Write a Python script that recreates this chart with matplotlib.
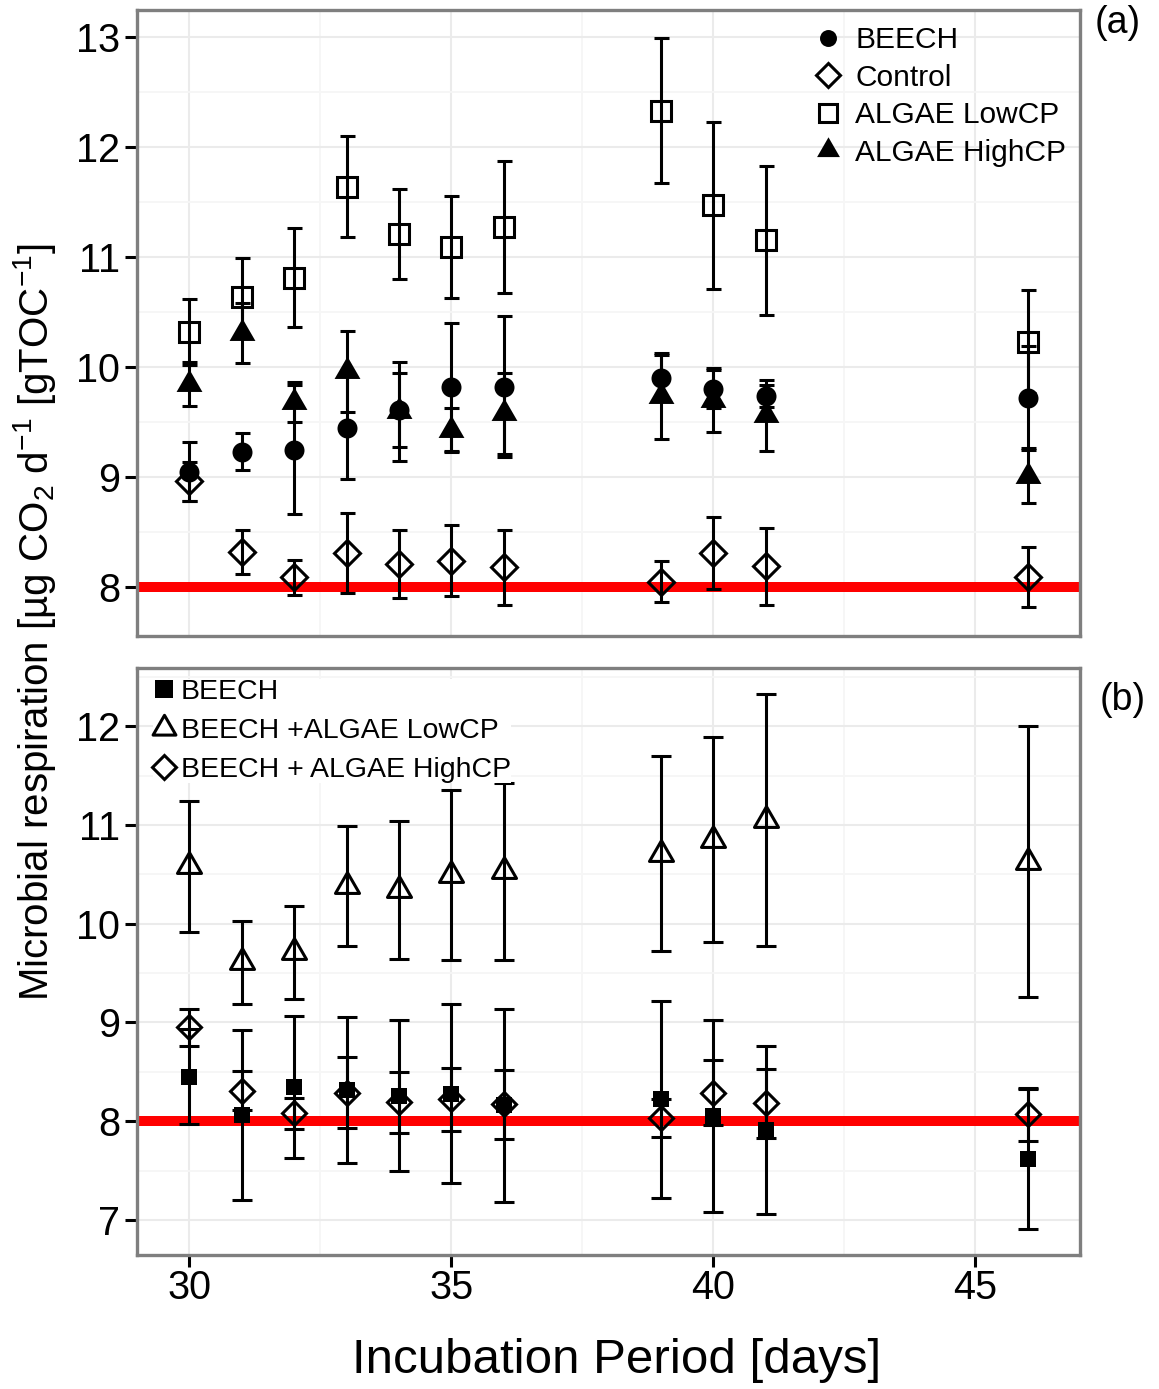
import matplotlib
matplotlib.use("Agg")
import matplotlib.pyplot as plt
from matplotlib.lines import Line2D
from matplotlib.path import Path
from matplotlib.ticker import MultipleLocator

plt.rcParams['font.family'] = 'Liberation Sans'
plt.rcParams['mathtext.fontset'] = 'custom'
plt.rcParams['mathtext.rm'] = 'Liberation Sans'
plt.rcParams['mathtext.it'] = 'Liberation Sans:italic'
plt.rcParams['mathtext.default'] = 'regular'

days = [30, 31, 32, 33, 34, 35, 36, 39, 40, 41, 46]

# panel (a)
beech_a = [9.05, 9.23, 9.25, 9.45, 9.61, 9.82, 9.82, 9.90, 9.80, 9.74, 9.72]
beech_a_err = [0.27, 0.17, 0.59, 0.47, 0.34, 0.58, 0.64, 0.21, 0.17, 0.10, 0.47]
control_a = [8.96, 8.32, 8.09, 8.31, 8.21, 8.24, 8.18, 8.05, 8.31, 8.19, 8.09]
control_a_err = [0.18, 0.20, 0.16, 0.36, 0.31, 0.32, 0.34, 0.19, 0.33, 0.35, 0.27]
lowcp_a = [10.32, 10.64, 10.81, 11.64, 11.21, 11.09, 11.27, 12.33, 11.47, 11.15, 10.23]
lowcp_a_err = [0.30, 0.35, 0.45, 0.46, 0.41, 0.46, 0.60, 0.66, 0.76, 0.68, 0.47]
highcp_a = [9.85, 10.31, 9.68, 9.96, 9.60, 9.43, 9.58, 9.74, 9.70, 9.56, 9.01]
highcp_a_err = [0.20, 0.27, 0.18, 0.37, 0.45, 0.20, 0.37, 0.39, 0.29, 0.32, 0.25]

# panel (b)
beech_b = [8.45, 8.06, 8.35, 8.32, 8.26, 8.28, 8.16, 8.22, 8.05, 7.91, 7.62]
beech_b_err = [0.48, 0.86, 0.72, 0.74, 0.76, 0.91, 0.98, 1.00, 0.97, 0.85, 0.71]
lowcp_b = [10.58, 9.61, 9.71, 10.38, 10.34, 10.49, 10.53, 10.71, 10.85, 11.05, 10.63]
lowcp_b_err = [0.66, 0.42, 0.47, 0.61, 0.70, 0.86, 0.90, 0.99, 1.04, 1.28, 1.37]
highcp_b = [8.95, 8.31, 8.08, 8.29, 8.19, 8.22, 8.17, 8.03, 8.29, 8.18, 8.07]
highcp_b_err = [0.19, 0.20, 0.16, 0.36, 0.31, 0.32, 0.35, 0.19, 0.33, 0.35, 0.27]

baseline = 8

# equilateral triangle centred on its centroid (like R pch 17 / 2), closed
tri = Path([(-1, -0.577), (1, -0.577), (0, 1.155), (-1, -0.577)], closed=True)

W, H = 1159, 1389
fig = plt.figure(figsize=(W / 100, H / 100), dpi=100)
ax_a = fig.add_axes([137 / W, 1 - 636 / H, 943 / W, 626 / H])
ax_b = fig.add_axes([137 / W, 1 - 1255 / H, 943 / W, 587 / H])


def style_axes(ax, ylim, yticks):
    ax.set_xlim(29.0, 47.0)
    ax.set_ylim(*ylim)
    ax.set_yticks(yticks)
    ax.set_xticks([30, 35, 40, 45])
    ax.xaxis.set_minor_locator(MultipleLocator(2.5))
    ax.yaxis.set_minor_locator(MultipleLocator(0.5))
    ax.grid(which='major', color='#EBEBEB', lw=1.5, zorder=0)
    ax.grid(which='minor', color='#F6F6F6', lw=1.3, zorder=0)
    ax.set_axisbelow(True)
    for s in ax.spines.values():
        s.set_color('#7F7F7F')
        s.set_linewidth(2.4)
    ax.tick_params(which='major', length=8.5, width=2.2, color='black',
                   labelsize=28.5, pad=3.5)
    ax.tick_params(which='minor', length=0)
    ax.axhline(baseline, color='#FF0000', lw=7.2, zorder=1.5)


def draw(ax, y, err, marker, ms, filled, capsize, label):
    ax.errorbar(days, y, yerr=err, fmt='none', ecolor='black', elinewidth=2.2,
                capsize=capsize, capthick=2.2, zorder=2)
    ax.plot(days, y, linestyle='none', marker=marker, ms=ms,
            mfc='black' if filled else 'none', mec='black',
            mew=0 if filled else 2.2, zorder=3, label=label)


style_axes(ax_a, (7.555, 13.245), [8, 9, 10, 11, 12, 13])
ax_a.tick_params(axis='x', bottom=False, labelbottom=False)
draw(ax_a, control_a, control_a_err, 'D', 13.5, False, 5.4, 'Control')
draw(ax_a, lowcp_a, lowcp_a_err, 's', 13.7, False, 5.4, 'ALGAE LowCP')
draw(ax_a, highcp_a, highcp_a_err, tri, 21.5, True, 5.4, 'ALGAE HighCP')
draw(ax_a, beech_a, beech_a_err, 'o', 14.4, True, 5.4, 'BEECH')

handles_a = [
    Line2D([], [], ls='none', marker='o', ms=12.2, mfc='black', mec='black', mew=0),
    Line2D([], [], ls='none', marker='D', ms=12.5, mfc='none', mec='black', mew=2.2),
    Line2D([], [], ls='none', marker='s', ms=12.5, mfc='none', mec='black', mew=2.2),
    Line2D([], [], ls='none', marker=tri, ms=19, mfc='black', mec='black', mew=0),
]
ax_a.legend(handles_a, ['BEECH', 'Control', 'ALGAE LowCP', 'ALGAE HighCP'],
            loc='upper left', bbox_to_anchor=(813.4 / W, 1 - 26 / H),
            bbox_transform=fig.transFigure, frameon=False, fontsize=21.5,
            borderpad=0, borderaxespad=0, handlelength=1.0,
            handletextpad=0.4, labelspacing=0.32)

style_axes(ax_b, (6.645, 12.59), [7, 8, 9, 10, 11, 12])
ax_b.tick_params(axis='x', pad=1.5)
draw(ax_b, lowcp_b, lowcp_b_err, tri, 20, False, 7.2, 'BEECH +ALGAE LowCP')
draw(ax_b, highcp_b, highcp_b_err, 'D', 12.6, False, 7.2, 'BEECH + ALGAE HighCP')
draw(ax_b, beech_b, beech_b_err, 's', 12.2, True, 7.2, 'BEECH')

handles_b = [
    Line2D([], [], ls='none', marker='s', ms=12.5, mfc='black', mec='black', mew=0),
    Line2D([], [], ls='none', marker=tri, ms=19, mfc='none', mec='black', mew=2.2),
    Line2D([], [], ls='none', marker='D', ms=12.5, mfc='none', mec='black', mew=2.2),
]
leg_b = ax_b.legend(handles_b, ['BEECH', 'BEECH +ALGAE LowCP', 'BEECH + ALGAE HighCP'],
                    loc='upper left', bbox_to_anchor=(152.9 / W, 1 - 679 / H),
                    bbox_transform=fig.transFigure, frameon=True, fontsize=20.5,
                    borderpad=0, borderaxespad=0, handlelength=0.8,
                    handletextpad=0.18, labelspacing=0.45, fancybox=False)
leg_b.get_frame().set_facecolor('white')
leg_b.get_frame().set_edgecolor('none')
leg_b.get_frame().set_alpha(1)
leg_b.set_zorder(5)

fig.text(1118 / W, 1 - 23 / H, '(a)', fontsize=27, ha='center', va='center')
fig.text(1123 / W, 1 - 700 / H, '(b)', fontsize=27, ha='center', va='center')

fig.text(35 / W, 1 - 622 / H,
         r'Microbial respiration [µg CO$_2$ d$^{-1}$ [gTOC$^{-1}$]',
         rotation=90, fontsize=29, ha='center', va='center')
fig.text(617 / W, 1 - 1373 / H, 'Incubation Period [days]',
         fontsize=35.5, ha='center', va='baseline')

fig.savefig('out.png', dpi=100)
